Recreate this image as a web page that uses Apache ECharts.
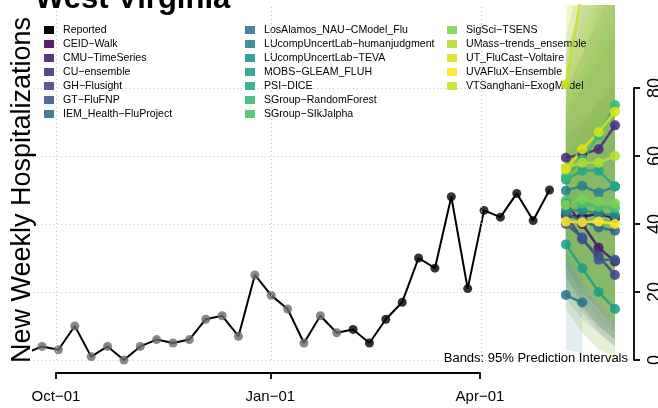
<!DOCTYPE html>
<html><head><meta charset="utf-8">
<script src="https://cdn.jsdelivr.net/npm/echarts@6/dist/echarts.min.js"></script>
<style>html,body{margin:0;padding:0;background:#fff}#c{width:658px;height:408px}</style>
</head><body><div id="c"></div>
<script>
// ---------- DATA ----------
const reportedDates = ['2022-09-18','2022-09-25','2022-10-02','2022-10-09','2022-10-16','2022-10-23','2022-10-30',
  '2022-11-06','2022-11-13','2022-11-20','2022-11-27','2022-12-04','2022-12-11','2022-12-18','2022-12-25',
  '2023-01-01','2023-01-08','2023-01-15','2023-01-22','2023-01-29','2023-02-05','2023-02-12','2023-02-19',
  '2023-02-26','2023-03-05','2023-03-12','2023-03-19','2023-03-26','2023-04-02','2023-04-09','2023-04-16',
  '2023-04-23','2023-04-30'];
const reportedValues = [2,4,3,10,1,4,0,4,6,5,6,12,13,7,25,19,15,5,13,8,9,5,12,17,30,27,48,21,44,42,49,41,50];
const grayCount = 20; // earlier (revised) points drawn in grey

const forecastDates = ['2023-05-07','2023-05-14','2023-05-21','2023-05-28'];
const modelNames = ['CEID−Walk','CMU−TimeSeries','CU−ensemble','GH−Flusight','GT−FluFNP','IEM_Health−FluProject',
  'LosAlamos_NAU−CModel_Flu','LUcompUncertLab−humanjudgment','LUcompUncertLab−TEVA','MOBS−GLEAM_FLUH','PSI−DICE',
  'SGroup−RandomForest','SGroup−SIkJalpha','SigSci−TSENS','UMass−trends_ensemble','UT_FluCast−Voltaire',
  'UVAFluX−Ensemble','VTSanghani−ExogModel'];
const modelColors = ['#440154','#481A6C','#472F7D','#414487','#39568C','#31688E','#2C728E','#26828E','#21908C',
  '#1F9E89','#22A884','#35B779','#44BF70','#7AD151','#B4DE2C','#D8E219','#FDE725','#C8E020'];
const pointForecasts = [
  [42.4,42.1,43.0,41.7],[46.0,40.0,33.0,29.0],[59.5,60.5,62.0,69.0],[42.5,35.5,30.5,25.0],
  [40.0,36.0,29.5,29.5],[43.0,41.0,39.0,38.0],[19.1,16.9],[49.8,51.2,49.2,51.0],
  [44.0,44.0,43.0,42.6],[34.0,27.0,20.0,15.0],[53.0,55.7,55.7,51.0],[54.0,59.0,66.0,75.0],
  [47.0,46.0,45.0,44.7],[45.6,47.2,46.6,46.0],[56.5,58.0,58.0,60.0],[56.0,62.0,67.0,73.0],
  [40.7,40.5,40.7,40.0],[81.0,109.0,137.0,165.0]];
const lower95 = [
  [27,20,15,10],[25,16,10,6],[35,28,22,18],[22,14,8,4],[20,15,10,6],[18,12,8,4],[3,2],[30,26,20,16],
  [24,18,12,8],[15,8,3,1],[28,22,18,15],[30,24,18,14],[26,20,15,10],[20,14,10,6],[32,24,18,12],
  [30,22,16,10],[16,8,3,0],[45,55,65,75]];
const upper95 = [
  [60,68,76,84],[72,80,88,96],[90,105,120,135],[70,72,76,80],[66,70,72,78],[80,90,100,110],[60,65],
  [75,85,95,105],[78,90,104,118],[62,66,70,74],[95,115,135,160],[82,96,108,120],[76,84,92,100],
  [85,100,115,130],[88,104,120,136],[100,125,150,175],[80,95,110,125],[140,200,260,320]];

const xTickDates = ['2022-10-01','2023-01-01','2023-04-01'];
const xTickLabels = ['Oct−01','Jan−01','Apr−01'];
const yTickValues = [0,20,40,60,80];
const legendColumns = [
  ['Reported','CEID−Walk','CMU−TimeSeries','CU−ensemble','GH−Flusight','GT−FluFNP','IEM_Health−FluProject'],
  ['LosAlamos_NAU−CModel_Flu','LUcompUncertLab−humanjudgment','LUcompUncertLab−TEVA','MOBS−GLEAM_FLUH','PSI−DICE','SGroup−RandomForest','SGroup−SIkJalpha'],
  ['SigSci−TSENS','UMass−trends_ensemble','UT_FluCast−Voltaire','UVAFluX−Ensemble','VTSanghani−ExogModel']];

// ---------- CHART ----------
const ts = s => new Date(s + 'T00:00:00').getTime();
const FONT = '"Liberation Sans", Arial, Helvetica, sans-serif';
const chart = echarts.init(document.getElementById('c'), null, {renderer: 'canvas'});
const dotted = {color: '#c4c4c4', width: 1, type: [1, 3]};
const xTickTs = xTickDates.map(ts);

const series = [];
// vertical dotted grid lines at the date ticks
series.push({type: 'line', xAxisIndex: 0, yAxisIndex: 0, data: [], silent: true, z: 0,
  markLine: {silent: true, symbol: 'none', label: {show: false}, lineStyle: dotted, animation: false,
    data: xTickTs.map(t => ({xAxis: t}))}});

// prediction interval bands
modelNames.forEach((name, i) => {
  const dates = forecastDates.slice(0, lower95[i].length);
  series.push({name: name + ' lo', type: 'line', stack: 'band' + i, silent: true, z: 1,
    data: dates.map((d, k) => [ts(d), lower95[i][k]]), symbol: 'none',
    lineStyle: {width: 0, opacity: 0}});
  series.push({name: name + ' band', type: 'line', stack: 'band' + i, silent: true, z: 1,
    data: dates.map((d, k) => [ts(d), upper95[i][k] - lower95[i][k]]), symbol: 'none',
    lineStyle: {width: 0, opacity: 0}, areaStyle: {color: modelColors[i], opacity: 0.13}});
});

// reported data
series.push({name: 'Reported (earlier)', type: 'scatter', z: 3, symbolSize: 9,
  data: reportedDates.slice(0, grayCount).map((d, i) => [ts(d), reportedValues[i]]),
  itemStyle: {color: '#6a6a6a'}});
series.push({name: 'Reported', type: 'line', z: 3, symbol: 'none',
  data: reportedDates.map((d, i) => [ts(d), reportedValues[i]]),
  lineStyle: {color: '#000', width: 2}, itemStyle: {color: '#000'}});
series.push({name: 'Reported (recent)', type: 'scatter', z: 3, symbolSize: 9,
  data: reportedDates.slice(grayCount).map((d, i) => [ts(d), reportedValues[grayCount + i]]),
  itemStyle: {color: '#000'}});

// point forecasts
modelNames.forEach((name, i) => {
  series.push({name: name, type: 'line', z: 4, symbol: 'circle', symbolSize: 10, showSymbol: true,
    data: pointForecasts[i].map((v, k) => [ts(forecastDates[k]), v]),
    itemStyle: {color: modelColors[i], opacity: 0.88},
    lineStyle: {color: modelColors[i], width: 2.5, opacity: 0.88}});
});

const option = {
  animation: false,
  backgroundColor: '#fff',
  grid: [
    {left: 33, right: 35, top: 5, bottom: 48, outerBoundsMode: 'none', containLabel: false},
    {left: 33, right: 35, top: 88, bottom: 48, outerBoundsMode: 'none', containLabel: false},
    {left: 56, right: 178, top: 300, bottom: 35, outerBoundsMode: 'none', containLabel: false}
  ],
  xAxis: [
    {gridIndex: 0, type: 'time', min: ts('2022-09-21') + 3 * 3600e3, max: ts('2023-05-31') + 10 * 3600e3, show: false},
    {gridIndex: 1, type: 'value', min: 0, max: 1, show: false},
    {gridIndex: 2, type: 'value', min: xTickTs[0], max: xTickTs[2], scale: true,
      axisLine: {onZero: false, lineStyle: {color: '#000', width: 1.8}},
      axisTick: {show: true, length: 6, lineStyle: {color: '#000', width: 1.8}, customValues: xTickTs},
      axisLabel: {customValues: xTickTs, margin: 16, fontSize: 15, fontFamily: FONT, color: '#000',
        formatter: v => { const k = xTickTs.indexOf(v); return k >= 0 ? xTickLabels[k] : ''; }},
      splitLine: {show: false}}
  ],
  yAxis: [
    {gridIndex: 0, type: 'value', min: 0, max: 104.4, show: false},
    {gridIndex: 1, type: 'value', min: 0, max: 80, interval: 20, position: 'right', offset: 11,
      axisLine: {show: true, onZero: false, lineStyle: {color: '#000', width: 1.8}},
      axisTick: {show: true, length: 6, lineStyle: {color: '#000', width: 1.8}},
      axisLabel: {rotate: 90, margin: 12, fontSize: 18, fontFamily: FONT, color: '#000',
        formatter: v => yTickValues.includes(v) ? String(v) : ''},
      splitLine: {show: true, lineStyle: dotted}},
    {gridIndex: 2, type: 'value', show: false}
  ],
  legend: legendColumns.map((items, c) => ({
    data: items, orient: 'vertical', left: [44, 245, 447][c], top: 23, padding: 0,
    itemWidth: 10, itemHeight: 8, itemGap: 0, icon: 'rect', selectedMode: false,
    textStyle: {fontSize: 10.6, fontFamily: FONT, color: '#000', lineHeight: 14, padding: [0, 0, 0, 4]}
  })),
  graphic: [
    {type: 'text', x: 35, y: -1, z: 100, silent: true,
      style: {text: 'West Virginia', font: 'bold 31px ' + FONT, fill: '#000', align: 'left', verticalAlign: 'middle'}},
    {type: 'text', x: 22.5, y: 190, rotation: Math.PI / 2, z: 100, silent: true,
      style: {text: 'New Weekly Hospitalizations', font: '27px ' + FONT, fill: '#000', align: 'center', verticalAlign: 'middle'}},
    {type: 'text', x: 628, y: 358, z: 100, silent: true,
      style: {text: 'Bands: 95% Prediction Intervals', font: '13px ' + FONT, fill: '#000', align: 'right', verticalAlign: 'middle'}}
  ],
  series: series
};
chart.setOption(option);
</script></body></html>
